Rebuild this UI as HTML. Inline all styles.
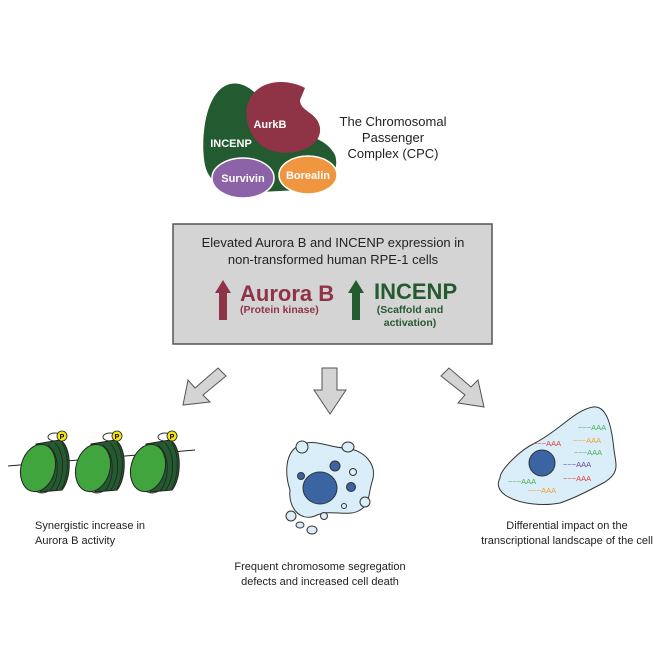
<!DOCTYPE html>
<html><head><style>body{margin:0;background:#fff}svg{display:block}text{font-family:"Liberation Sans",sans-serif}</style></head><body>
<svg width="664" height="664" viewBox="0 0 664 664">
<!-- CPC -->
<path d="M230,84 C205,90 200,140 205,165 C210,190 240,195 260,192 L300,190 C330,188 340,170 335,155 C330,145 320,140 315,138 C300,130 280,120 262,100 C250,86 240,82 230,84 Z" fill="#245a30"/>
<path d="M305,88 C290,80 265,78 252,95 C240,112 248,142 270,150 C292,158 322,148 320,128 C318,112 300,112 300,100 Z" fill="#8f3347"/>
<ellipse cx="243" cy="178" rx="31" ry="20" fill="#8c63a6" stroke="#fff" stroke-width="1.5"/>
<ellipse cx="308" cy="175" rx="29" ry="19" fill="#f09640" stroke="#fff" stroke-width="1.5"/>
<text x="270" y="128" fill="#fff" font-size="11" font-weight="bold" text-anchor="middle">AurkB</text>
<text x="231" y="147" fill="#fff" font-size="11" font-weight="bold" text-anchor="middle">INCENP</text>
<text x="243" y="182" fill="#fff" font-size="11" font-weight="bold" text-anchor="middle">Survivin</text>
<text x="308" y="179" fill="#fff" font-size="11" font-weight="bold" text-anchor="middle">Borealin</text>
<g font-size="13" fill="#222" text-anchor="middle"><text x="393" y="126">The Chromosomal</text><text x="393" y="142">Passenger</text><text x="393" y="158">Complex (CPC)</text></g>
<!-- box -->
<rect x="173" y="224" width="319" height="120" fill="#d4d4d4" stroke="#555" stroke-width="1.5"/>
<g font-size="13" fill="#222" text-anchor="middle"><text x="333" y="247">Elevated Aurora B and INCENP expression in</text><text x="333" y="264">non-transformed human RPE-1 cells</text></g>
<polygon points="223,280 231,293 227,293 227,320 219,320 219,293 215,293" fill="#8f3347"/>
<text x="240" y="301" fill="#8f3347" font-size="22" font-weight="bold">Aurora B</text>
<text x="240" y="313" fill="#8f3347" font-size="10.5" font-weight="bold">(Protein kinase)</text>
<polygon points="356,280 364,293 360,293 360,320 352,320 352,293 348,293" fill="#245a30"/>
<text x="374" y="299" fill="#245a30" font-size="22" font-weight="bold">INCENP</text>
<g fill="#245a30" font-size="10.5" font-weight="bold" text-anchor="middle"><text x="410" y="313">(Scaffold and</text><text x="410" y="326">activation)</text></g>
<!-- arrows -->
<g fill="#d4d4d4" stroke="#555" stroke-width="1">
<polygon points="218,368 226,376 203,395 210,402 183,405 188,380 195,388"/>
<polygon points="322,368 337,368 337,390 346,390 330,414 314,390 322,390"/>
<polygon points="441,376 449,368 471,387 478,380 484,407 458,403 465,395"/>
</g>
<!-- nucleosomes -->
<line x1="8" y1="466" x2="195" y2="450" stroke="#222" stroke-width="1"/>
<g id="n">
<ellipse cx="55" cy="437" rx="7" ry="4" fill="#fff" stroke="#333"/>
<ellipse cx="42" cy="489" rx="7" ry="4" fill="#fff" stroke="#333"/>
<path d="M36,444 L60,440 C72,446 72,478 62,490 L40,492 Z" fill="#245a30" stroke="#222"/>
<ellipse cx="38" cy="468" rx="17" ry="24" transform="rotate(15 38 468)" fill="#3fa53c" stroke="#222"/>
<path d="M48,445 C60,455 60,478 50,491 M55,443 C66,455 64,478 56,490 M62,443 C70,456 68,476 62,489" fill="none" stroke="#222" stroke-width=".8"/>
<circle cx="62" cy="436" r="5" fill="#f5e50a" stroke="#222" stroke-width=".8"/>
<text x="62" y="439" font-size="7" font-weight="bold" text-anchor="middle">P</text>
</g>
<use href="#n" x="55"/><use href="#n" x="110"/>
<!-- middle cell -->
<path d="M300,445 C315,438 330,448 345,448 C365,450 378,465 372,482 C368,495 370,505 360,510 C348,518 330,508 315,516 C298,522 288,505 290,490 C285,475 284,452 300,445 Z" fill="#d9eef8" stroke="#333"/>
<ellipse cx="320" cy="488" rx="17" ry="16" fill="#3b64a3" stroke="#333"/>
<circle cx="335" cy="466" r="5" fill="#3b64a3" stroke="#333"/><circle cx="301" cy="476" r="3.5" fill="#3b64a3" stroke="#333"/><circle cx="351" cy="487" r="4.5" fill="#3b64a3" stroke="#333"/>
<g fill="#d9eef8" stroke="#333"><circle cx="353" cy="472" r="3.5"/><circle cx="344" cy="506" r="2.5"/><circle cx="324" cy="516" r="3.5"/><ellipse cx="302" cy="447" rx="6" ry="6"/><ellipse cx="348" cy="447" rx="6" ry="5"/><ellipse cx="365" cy="502" rx="5" ry="5"/><ellipse cx="291" cy="516" rx="5" ry="5"/><ellipse cx="300" cy="525" rx="4" ry="3"/><ellipse cx="312" cy="530" rx="5" ry="4"/></g>
<!-- right cell -->
<path d="M500,478 C500,470 520,450 535,443 C560,430 575,410 593,407 C608,405 612,430 614,450 C616,465 620,472 605,482 C590,490 575,498 560,503 C545,506 520,505 505,495 C496,488 498,482 500,478 Z" fill="#d9eef8" stroke="#333"/>
<circle cx="542" cy="463" r="13" fill="#3b64a3" stroke="#333"/>
<g font-size="7.5"><text x="578" y="430" fill="#4caf50">~~~AAA</text><text x="573" y="443" fill="#f0a030">~~~AAA</text><text x="533" y="446" fill="#e04040">~~~AAA</text><text x="574" y="455" fill="#4caf50">~~~AAA</text><text x="563" y="467" fill="#7040a0">~~~AAA</text><text x="563" y="481" fill="#e04040">~~~AAA</text><text x="508" y="484" fill="#4caf50">~~~AAA</text><text x="528" y="493" fill="#f0a030">~~~AAA</text></g>
<!-- captions -->
<g font-size="11" fill="#222"><text x="35" y="529">Synergistic increase in</text><text x="35" y="544">Aurora B activity</text></g>
<g font-size="11" fill="#222" text-anchor="middle"><text x="320" y="570">Frequent chromosome segregation</text><text x="320" y="585">defects and increased cell death</text>
<text x="567" y="529">Differential impact on the</text><text x="567" y="544">transcriptional landscape of the cell</text></g>
</svg>
</body></html>
